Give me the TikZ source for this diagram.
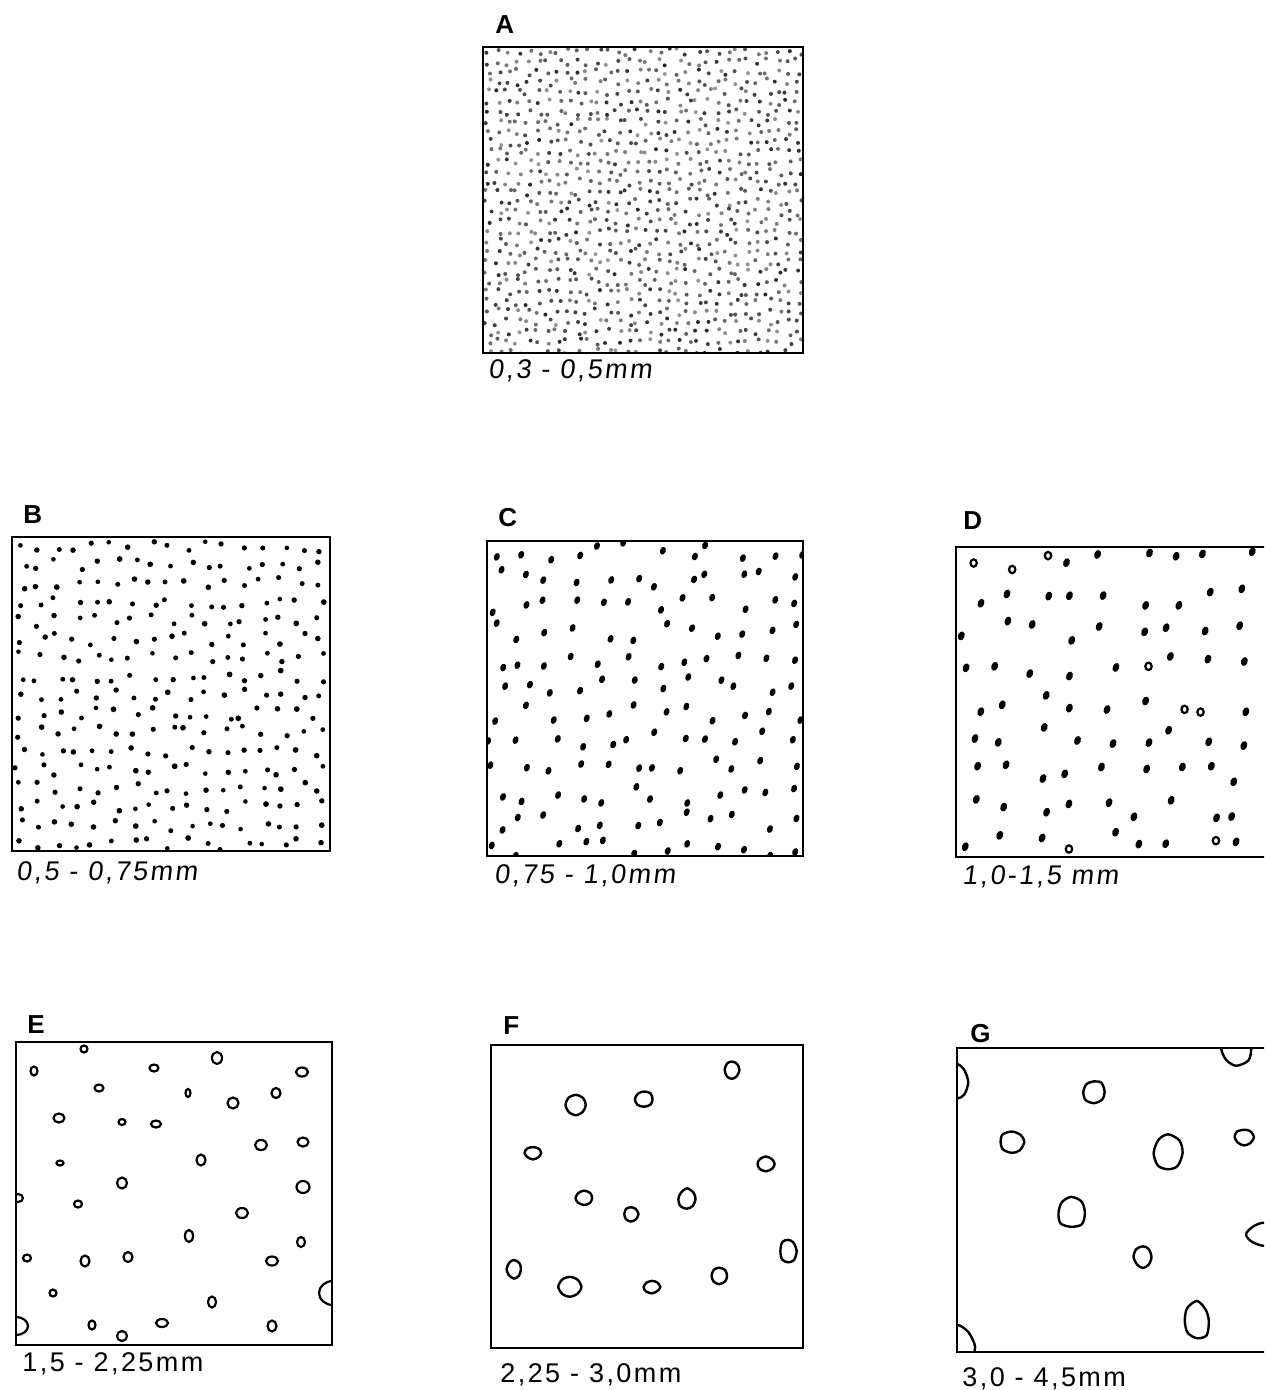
\documentclass[tikz,border=0pt]{standalone}
\usepackage{fontspec}
\setmainfont{Liberation Sans}
\newfontfamily\capfont[LetterSpace=9]{Liberation Sans}
\newfontfamily\capslant[LetterSpace=9,FakeSlant=0.12]{Liberation Sans}
\newcommand{\tagfont}{\fontsize{13}{15}\selectfont\bfseries}
\usetikzlibrary{positioning}
\tikzset{
  frame/.style     = {line width=1.2pt},
  ring/.style      = {draw, line width=1.1pt},
  thick ring/.style= {draw, line width=1.2pt},
  tag/.style       = {font=\tagfont, anchor=base west, inner sep=0pt},
}

\begin{document}
\begin{tikzpicture}[x=0.5pt, y=-0.5pt,
    range label/.style   = {font=\fontsize{13.5}{15}\capfont, anchor=base west, inner sep=0pt},
    slanted range/.style = {font=\fontsize{13.5}{15}\capslant, anchor=base west, inner sep=0pt},
  ]
  \clip (0,0) rectangle (1264,1390);

  % =======================================================================
  %  A : 0,3 - 0,5 mm
  % =======================================================================
  \begin{scope}
    \clip (483,47) rectangle (803,353);
    \pgfmathsetseed{7}
    \foreach \i in {0,...,31}
      \foreach \j in {0,...,30} {
        \pgfmathtruncatemacro\tone{40+45*rnd}
        \fill[black!\tone] ({488+10*\i+3.6*rand},{52+10*\j+3.6*rand}) circle[radius=2];
      }
  \end{scope}
  \draw[frame] (483,47) rectangle (803,353);
  \node[tag] (tagA) at (495,34) {A};
  \node[slanted range] (capA) at (488,378) {0,3 - 0,5mm};

  % =======================================================================
  %  B : 0,5 - 0,75 mm
  % =======================================================================
  \begin{scope}
    \clip (12,537) rectangle (330,851);
    \pgfmathsetseed{21}
    \foreach \i in {0,...,16}
      \foreach \j in {0,...,16} {
        \fill ({21+18.6*\i+6*rand},{546+18.6*\j+6*rand}) circle[radius={2.3+0.6*rnd}];
      }
  \end{scope}
  \draw[frame] (12,537) rectangle (330,851);
  \node[tag] (tagB) at (23,523) {B};
  \node[slanted range] (capB) at (16,880) {0,5 - 0,75mm};

  % =======================================================================
  %  C : 0,75 - 1,0 mm
  % =======================================================================
  \begin{scope}
    \clip (487,541) rectangle (803,856);
    \pgfmathsetseed{33}
    \foreach \i in {0,...,11}
      \foreach \j in {0,...,11} {
        \pgfmathsetmacro\cx{497+27*\i+9*rand}
        \pgfmathsetmacro\cy{551+27*\j+9*rand}
        \fill[rotate around={-20:(\cx,\cy)}] (\cx,\cy) ellipse[x radius=2.9, y radius=4];
      }
  \end{scope}
  \draw[frame] (487,541) rectangle (803,856);
  \node[tag] (tagC) at (498,526) {C};
  \node[slanted range] (capC) at (494,883) {0,75 - 1,0mm};

  % =======================================================================
  %  D : 1,0 - 1,5 mm
  % =======================================================================
  \begin{scope}
    \clip (956,547) rectangle (1290,857);
    \pgfmathsetseed{45}
    \foreach \i in {0,...,9}
      \foreach \j in {0,...,8} {
        \pgfmathsetmacro\cx{970+34*\i+11*rand}
        \pgfmathsetmacro\cy{562+35*\j+11*rand}
        \pgfmathtruncatemacro\hollow{rnd<0.07 ? 1 : 0}
        \ifnum\hollow=1
          \draw[line width=1.1pt] (\cx,\cy) ellipse[x radius=3.2, y radius=3.7];
        \else
          \fill[rotate around={-20:(\cx,\cy)}] (\cx,\cy) ellipse[x radius=3.3, y radius=4.6];
        \fi
      }
  \end{scope}
  \draw[frame] (956,547) rectangle (1290,857);
  \node[tag] (tagD) at (963,529) {D};
  \node[slanted range] (capD) at (962,884) {1,0-1,5 mm};

  % =======================================================================
  %  E : 1,5 - 2,25 mm
  % =======================================================================
  \begin{scope}
    \clip (16,1042) rectangle (332,1345);
    \foreach \px/\py/\a/\b in {
        84/1049/3.5/3.5, 34/1071/3.5/4.5, 154/1068/4.5/3.5, 217/1058/5/6,
        302/1072/6/4.5, 99/1088/4.5/3.5, 188/1093/2.5/4, 276/1093/4.5/5,
        233/1103/5.5/5.5, 59/1118/5.5/4.5, 122/1122/3.5/3, 156/1124/5/3.5,
        261/1145/6/5, 303/1142/5.5/4.5, 201/1160/4.5/5.5, 60/1163/3.5/2.5,
        122/1183/5/5.5, 303/1187/6.5/6, 18/1198/5/4, 78/1204/4/3.5,
        242/1213/6/5, 189/1236/4/6, 301/1242/4/5, 27/1258/4/3.5,
        85/1261/4.5/5.5, 128/1257/4.5/5, 272/1261/6/4.5, 53/1293/3.5/3.5,
        212/1302/4/5.5, 333/1293/14/12, 16/1326/12/9, 92/1325/3.5/4.5,
        162/1323/6/4, 272/1326/4.5/5.5, 122/1336/5/5}
      \draw[ring] (\px,\py) ellipse[x radius=\a, y radius=\b];
  \end{scope}
  \draw[frame] (16,1042) rectangle (332,1345);
  \node[tag] (tagE) at (27,1033) {E};
  \node[range label] (capE) at (22,1371) {1,5 - 2,25mm};

  % =======================================================================
  %  F : 2,25 - 3,0 mm
  % =======================================================================
  \begin{scope}
    \clip (491,1045) rectangle (803,1348);
    \pgfmathsetseed{58}
    \foreach \px/\py/\a/\b in {
        732/1070/7/9, 576/1105/10/10, 644/1099/9/8, 533/1153/8/6,
        766/1164/9/7, 584/1198/8/7, 687/1199/9/10, 631/1214/7/7,
        788/1251/8/12, 514/1269/7/9, 570/1287/11/10, 652/1287/8/6,
        719/1276/8/8}
      \draw[thick ring] plot[smooth cycle, domain=0:315, samples=8, variable=\t]
        ({\px+\a*(1+0.08*rand)*cos(\t)}, {\py+\b*(1+0.08*rand)*sin(\t)});
  \end{scope}
  \draw[frame] (491,1045) rectangle (803,1348);
  \node[tag] (tagF) at (503,1034) {F};
  \node[range label] (capF) at (500,1382) {2,25 - 3,0mm};

  % =======================================================================
  %  G : 3,0 - 4,5 mm
  % =======================================================================
  \begin{scope}
    \clip (957,1048) rectangle (1290,1352);
    \pgfmathsetseed{64}
    \foreach \px/\py/\a/\b in {
        957/1082/11/17, 1236/1048/16/17, 1094/1092/11/12, 1012/1142/12/11,
        1168/1153/15/17, 1244/1137/9/8, 1071/1213/14/15, 1263/1234/16/11,
        1143/1257/9/11, 1197/1321/13/18, 957/1347/17/21}
      \draw[thick ring] plot[smooth cycle, domain=0:315, samples=8, variable=\t]
        ({\px+\a*(1+0.12*rand)*cos(\t)}, {\py+\b*(1+0.12*rand)*sin(\t)});
  \end{scope}
  \draw[frame] (957,1048) rectangle (1290,1352);
  \node[tag] (tagG) at (970,1042) {G};
  \node[range label] (capG) at (962,1386) {3,0 - 4,5mm};
\end{tikzpicture}
\end{document}
